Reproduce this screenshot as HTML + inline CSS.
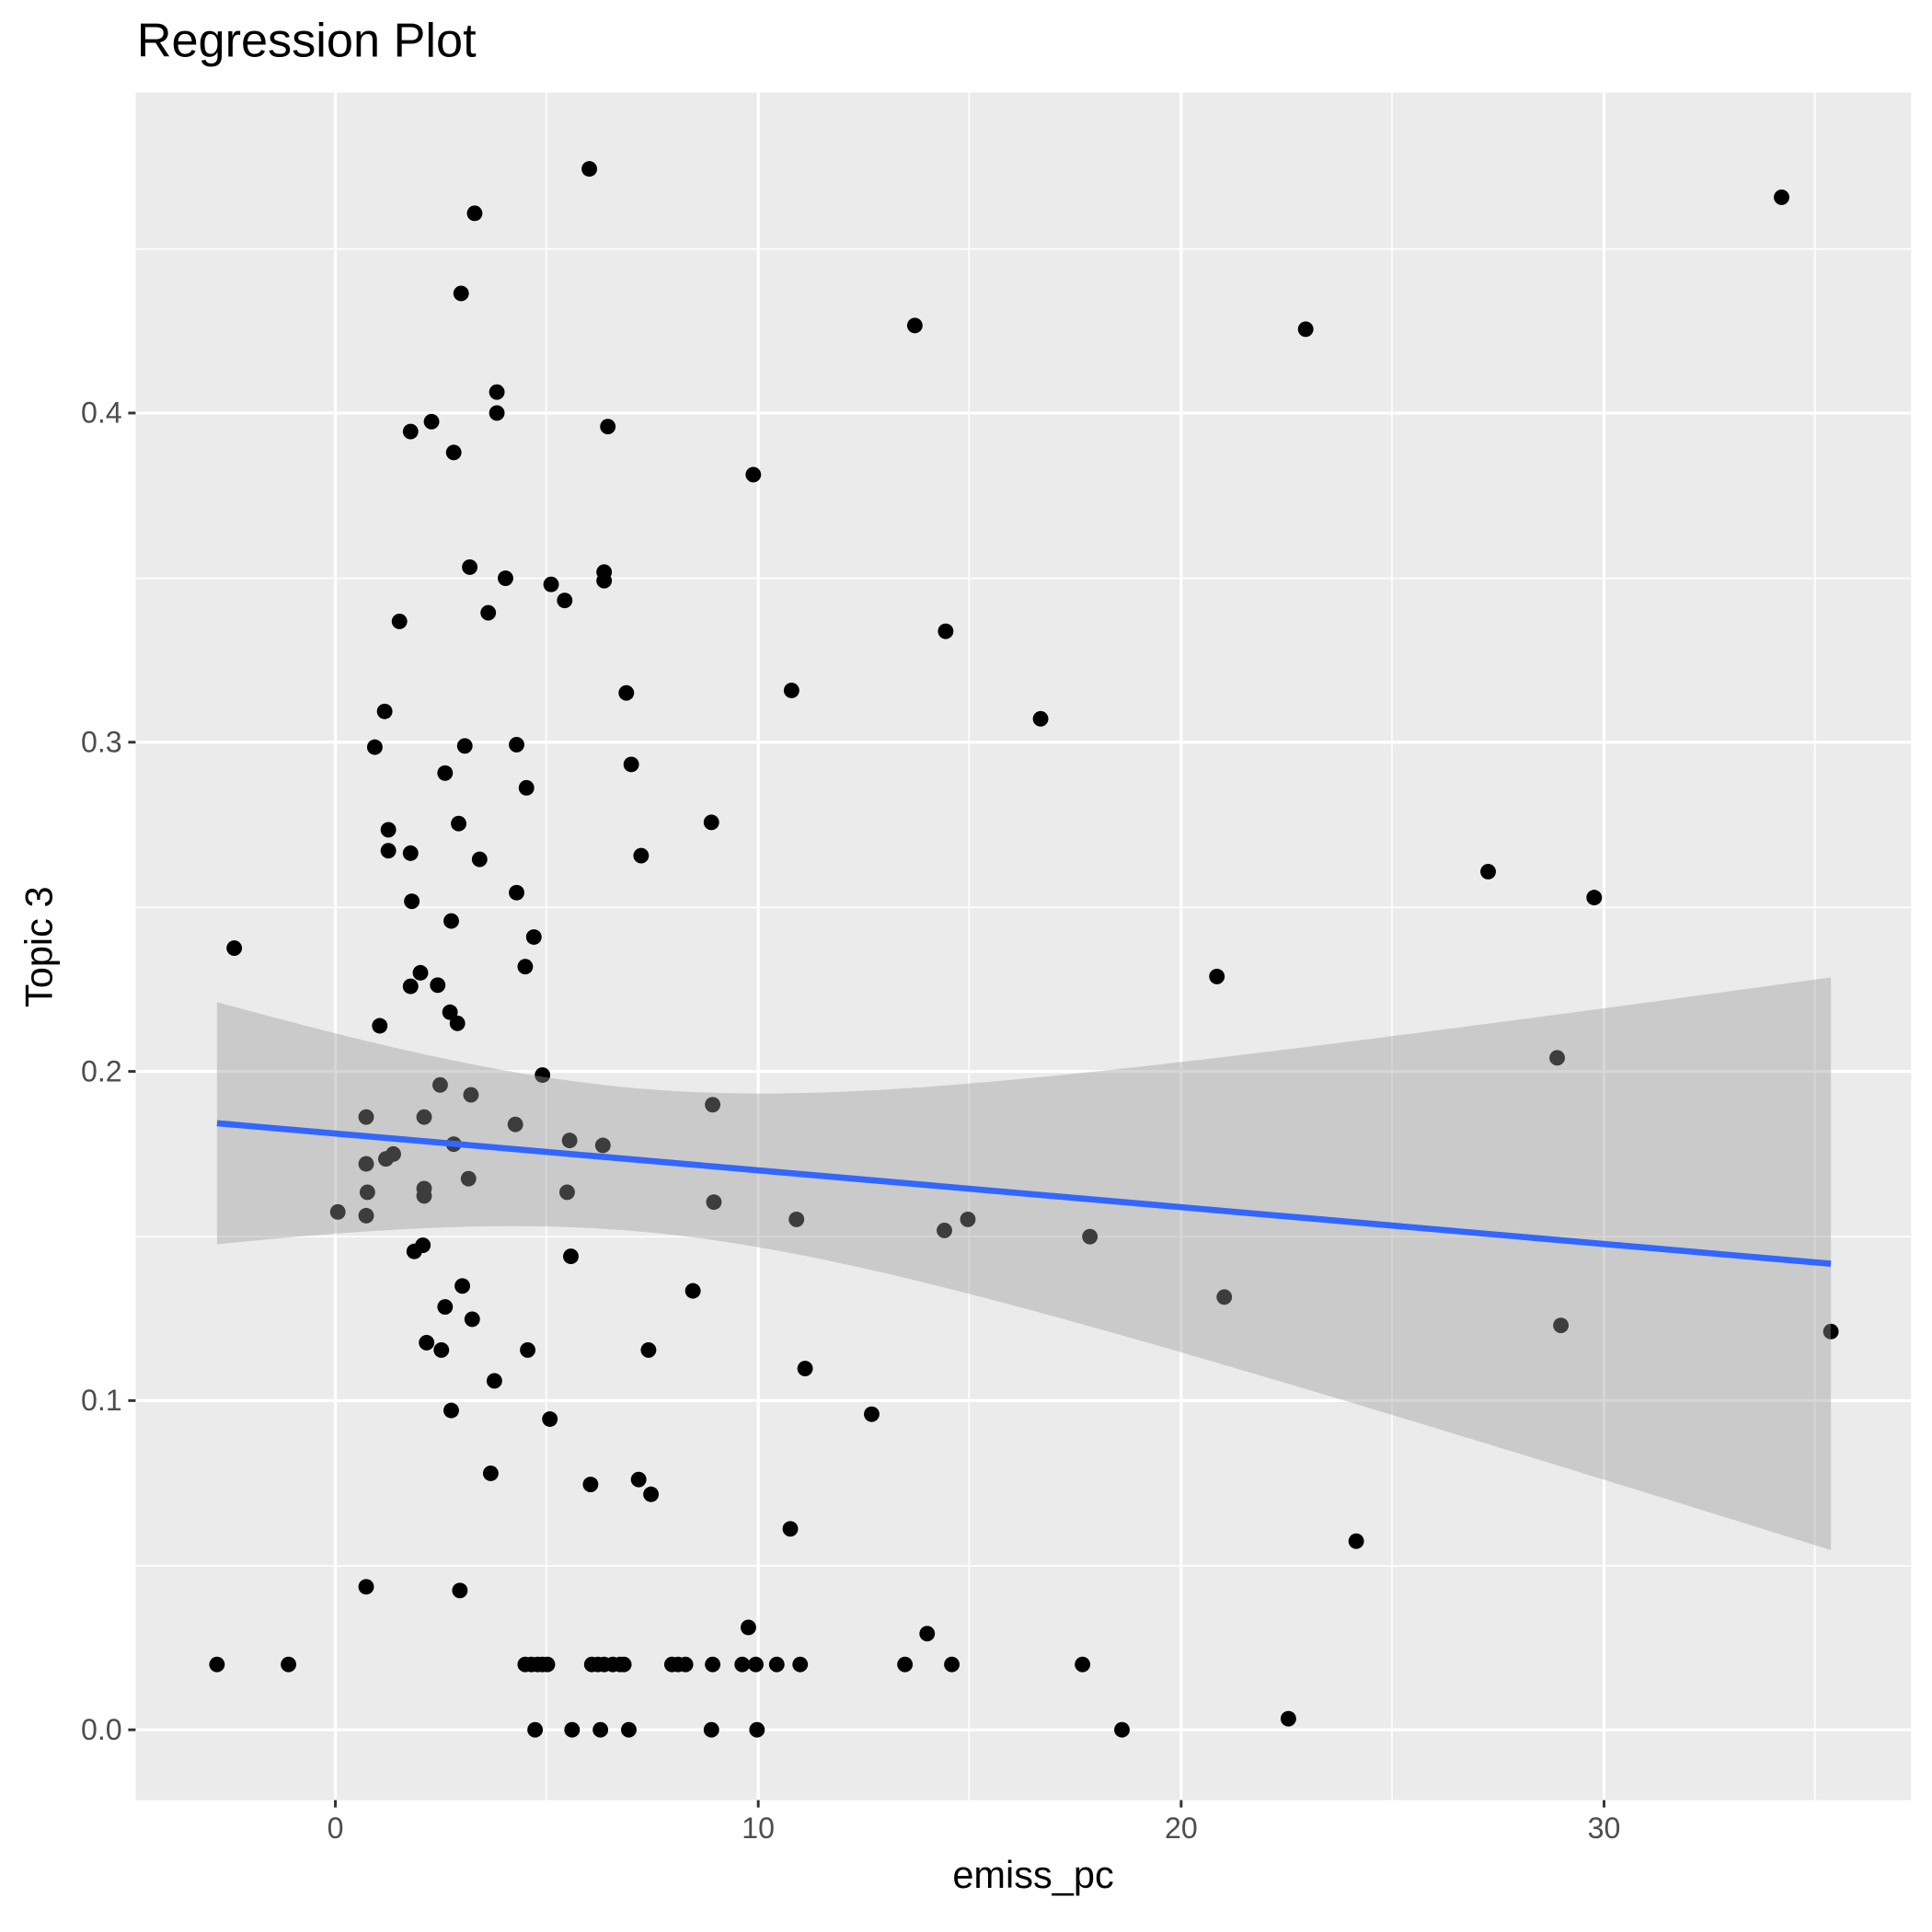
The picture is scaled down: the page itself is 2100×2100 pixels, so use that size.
<!DOCTYPE html>
<html><head><meta charset="utf-8"><style>html,body{margin:0;padding:0;background:#fff}svg{display:block}</style></head>
<body>
<svg id="s" width="2100" height="2100" viewBox="0 0 1567 1567" xmlns="http://www.w3.org/2000/svg" font-family="Liberation Sans, sans-serif">
<rect x="0" y="0" width="1567" height="1567" fill="#fff"/>
<rect x="110" y="75" width="1440" height="1385" fill="#EBEBEB"/>
<g stroke="#fff" stroke-width="1.2">
<line x1="110" x2="1550" y1="1270" y2="1270"/><line x1="110" x2="1550" y1="1003" y2="1003"/><line x1="110" x2="1550" y1="736" y2="736"/><line x1="110" x2="1550" y1="469" y2="469"/><line x1="110" x2="1550" y1="202" y2="202"/>
<line y1="75" y2="1460" x1="443" x2="443"/><line y1="75" y2="1460" x1="786" x2="786"/><line y1="75" y2="1460" x1="1129" x2="1129"/><line y1="75" y2="1460" x1="1472" x2="1472"/>
</g>
<g stroke="#fff" stroke-width="2.4">
<line x1="110" x2="1550" y1="1403" y2="1403"/><line x1="110" x2="1550" y1="1136" y2="1136"/><line x1="110" x2="1550" y1="869" y2="869"/><line x1="110" x2="1550" y1="602" y2="602"/><line x1="110" x2="1550" y1="335" y2="335"/>
<line y1="75" y2="1460" x1="272" x2="272"/><line y1="75" y2="1460" x1="615" x2="615"/><line y1="75" y2="1460" x1="958" x2="958"/><line y1="75" y2="1460" x1="1301" x2="1301"/>
</g>
<g id="pts" fill="#000"></g>
<path id="band" fill="#999999" fill-opacity="0.4"/>
<line x1="176" y1="911" x2="1485" y2="1025" stroke="#3366FF" stroke-width="5"/>
<g stroke="#333" stroke-width="2.2">
<line x1="104" x2="110" y1="1403" y2="1403"/><line x1="104" x2="110" y1="1136" y2="1136"/><line x1="104" x2="110" y1="869" y2="869"/><line x1="104" x2="110" y1="602" y2="602"/><line x1="104" x2="110" y1="335" y2="335"/>
<line y1="1460" y2="1466" x1="272" x2="272"/><line y1="1460" y2="1466" x1="615" x2="615"/><line y1="1460" y2="1466" x1="958" x2="958"/><line y1="1460" y2="1466" x1="1301" x2="1301"/>
</g>
<g fill="#4D4D4D" font-size="24" text-anchor="end">
<text x="99" y="1411">0.0</text><text x="99" y="1144">0.1</text><text x="99" y="877">0.2</text><text x="99" y="610">0.3</text><text x="99" y="343">0.4</text>
</g>
<g fill="#4D4D4D" font-size="24" text-anchor="middle">
<text x="272" y="1491">0</text><text x="615" y="1491">10</text><text x="958" y="1491">20</text><text x="1301" y="1491">30</text>
</g>
<text x="838" y="1531" font-size="31" text-anchor="middle">emiss_pc</text>
<text transform="translate(42,768) rotate(-90)" font-size="31" text-anchor="middle">Topic 3</text>
<text x="111" y="46" font-size="39">Regression Plot</text>
<script>
var P=[[176,1350],[234,1350],[190,769],[274,983],[297,906],[297,944],[298,967],[297,986],[297,1287],[304,606],[308,832],[312,577],[315,673],[315,690],[313,940],[319,936],[324,504],[333,350],[333,692],[334,731],[333,800],[336,1015],[341,789],[344,906],[344,964],[344,970],[343,1010],[346,1089],[350,342],[355,799],[357,880],[358,1095],[361,627],[361,1060],[366,747],[365,821],[366,1144],[368,367],[368,928],[372,668],[371,830],[374,238],[373,1290],[375,1043],[377,605],[380,956],[381,460],[382,888],[383,1070],[385,173],[389,697],[396,497],[398,1195],[401,1120],[403,318],[403,335],[410,469],[418,912],[419,604],[419,724],[427,639],[426,784],[428,1095],[433,760],[440,872],[447,474],[446,1151],[458,487],[460,967],[462,925],[463,1019],[478,137],[479,1204],[490,464],[490,471],[489,929],[493,346],[508,562],[512,620],[520,694],[518,1200],[526,1095],[528,1212],[562,1047],[577,667],[578,896],[579,975],[611,385],[641,1240],[642,560],[646,989],[653,1110],[707,1147],[742,264],[752,1325],[767,512],[766,998],[785,989],[844,583],[884,1003],[987,792],[993,1052],[1059,267],[1100,1250],[1207,707],[1263,858],[1266,1075],[1293,728],[1445,160],[1485,1080],[1045,1394],[607,1320]];
[426,431,436,440,444,480,485,490,497,503,506,545,550,556,578,602,613,630,649,734,772,878].forEach(function(x){P.push([x,1350])});
[434,464,487,510,577,614,910].forEach(function(x){P.push([x,1403])});
var g=document.getElementById('pts'),ns='http://www.w3.org/2000/svg';
P.forEach(function(p){var c=document.createElementNS(ns,'circle');c.setAttribute('cx',p[0]);c.setAttribute('cy',p[1]);c.setAttribute('r',6.3);g.appendChild(c);});
function ly(x){return 911+(x-176)*114/1309;}
function hw(x){return Math.sqrt(58*58+0.054*(x-517)*(x-517));}
var up=[],lo=[];
for(var x=176;x<=1485;x+=8){var xx=Math.min(x,1485);up.push(xx+','+(ly(xx)-hw(xx)).toFixed(1));lo.unshift(xx+','+(ly(xx)+hw(xx)).toFixed(1));}
up.push('1485,'+(ly(1485)-hw(1485)).toFixed(1));lo.unshift('1485,'+(ly(1485)+hw(1485)).toFixed(1));
document.getElementById('band').setAttribute('d','M'+up.join(' L')+' L'+lo.join(' L')+' Z');
</script>
</svg>
</body></html>
